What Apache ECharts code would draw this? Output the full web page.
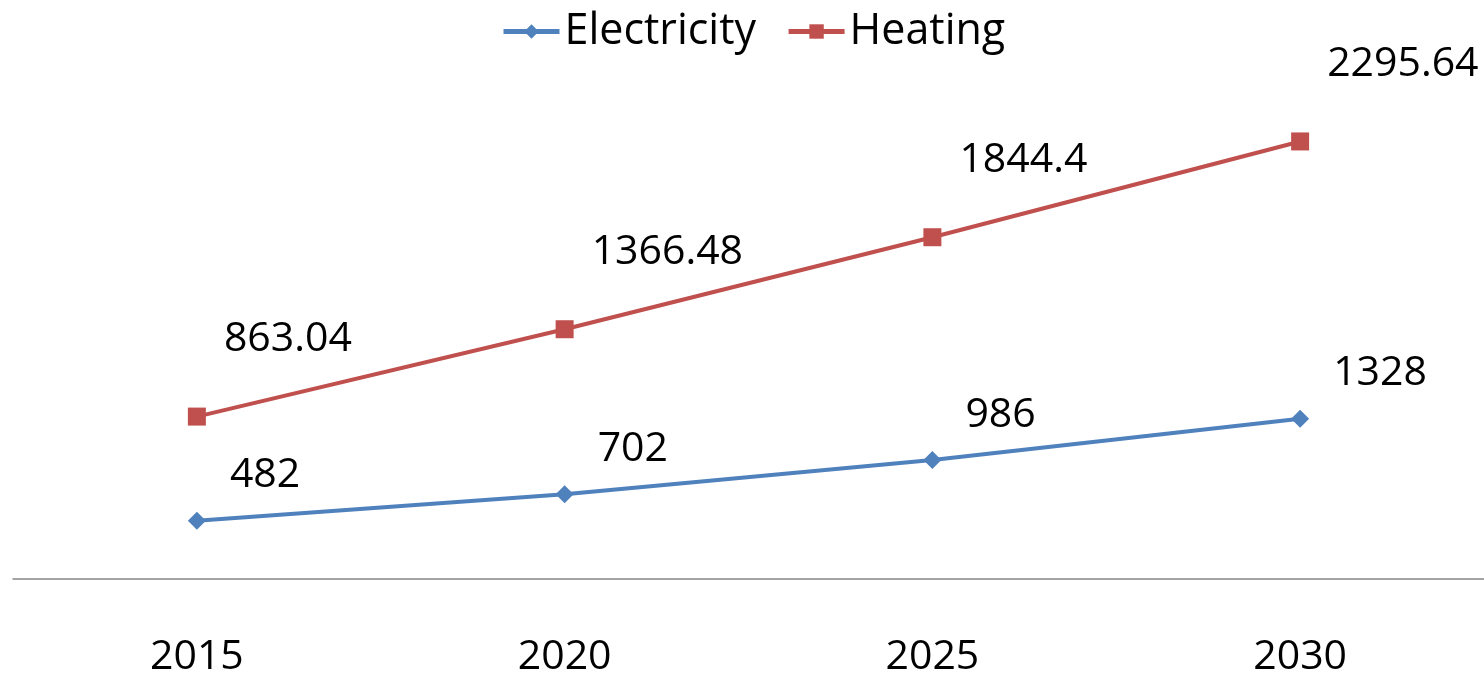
<!DOCTYPE html>
<html>
<head>
<meta charset="utf-8">
<script src="https://cdn.jsdelivr.net/npm/echarts@6/dist/echarts.min.js"></script>
<style>
    html, body {margin: 0; padding: 0; background: #fff;}
    #chart {width: 1484px; height: 674px;}
</style>
</head>
<body>
<div id="chart"></div>
<script>
var years = ['2015', '2020', '2025', '2030'];
var electricity = [482, 702, 986, 1328];
var heating = [863.04, 1366.48, 1844.4, 2295.64];

//堆叠折线图
function drawChart(){
    var chart = echarts.init(document.getElementById('chart'));
    var font = 'Open Sans';
    var option = {
        animation: false,
        legend: {
            top: 5,
            left: 496,
            itemWidth: 56,
            itemHeight: 18,
            itemGap: 30,
            lineStyle: {width: 5},
            textStyle: {
                fontFamily: font,
                fontSize: 43,
                color: '#000'
            },
            data: ['Electricity', 'Heating']
        },
        grid: {
            left: 13,
            right: 0,
            top: 96,
            bottom: 95,
            outerBoundsMode: 'none'
        },
        xAxis: {
            type: 'category',
            data: years,
            boundaryGap: true,
            axisLine: {lineStyle: {color: '#868686', width: 1.5}},
            axisTick: {show: false},
            axisLabel: {
                margin: 58,
                fontFamily: font,
                fontSize: 41,
                color: '#000'
            }
        },
        yAxis: {
            type: 'value',
            min: 0,
            max: 4000,
            show: false,
            splitLine: {show: false}
        },
        series: [
            {
                name: 'Electricity',
                type: 'line',
                stack: 'total',
                data: electricity,
                symbol: 'diamond',
                symbolSize: 18,
                lineStyle: {color: '#4F81BD', width: 4},
                itemStyle: {color: '#4F81BD'},
                label: {
                    show: true,
                    position: 'right',
                    distance: 0,
                    offset: [24, -45],
                    align: 'left',
                    verticalAlign: 'middle',
                    fontFamily: font,
                    fontSize: 41,
                    color: '#000'
                }
            },
            {
                name: 'Heating',
                type: 'line',
                stack: 'total',
                data: heating,
                symbol: 'rect',
                symbolSize: 18,
                lineStyle: {color: '#C0504D', width: 4},
                itemStyle: {color: '#C0504D'},
                label: {
                    show: true,
                    position: 'right',
                    distance: 0,
                    offset: [18, -77],
                    align: 'left',
                    verticalAlign: 'middle',
                    fontFamily: font,
                    fontSize: 41,
                    color: '#000'
                }
            }
        ]
    };
    chart.setOption(option);
}

drawChart();
</script>
</body>
</html>
